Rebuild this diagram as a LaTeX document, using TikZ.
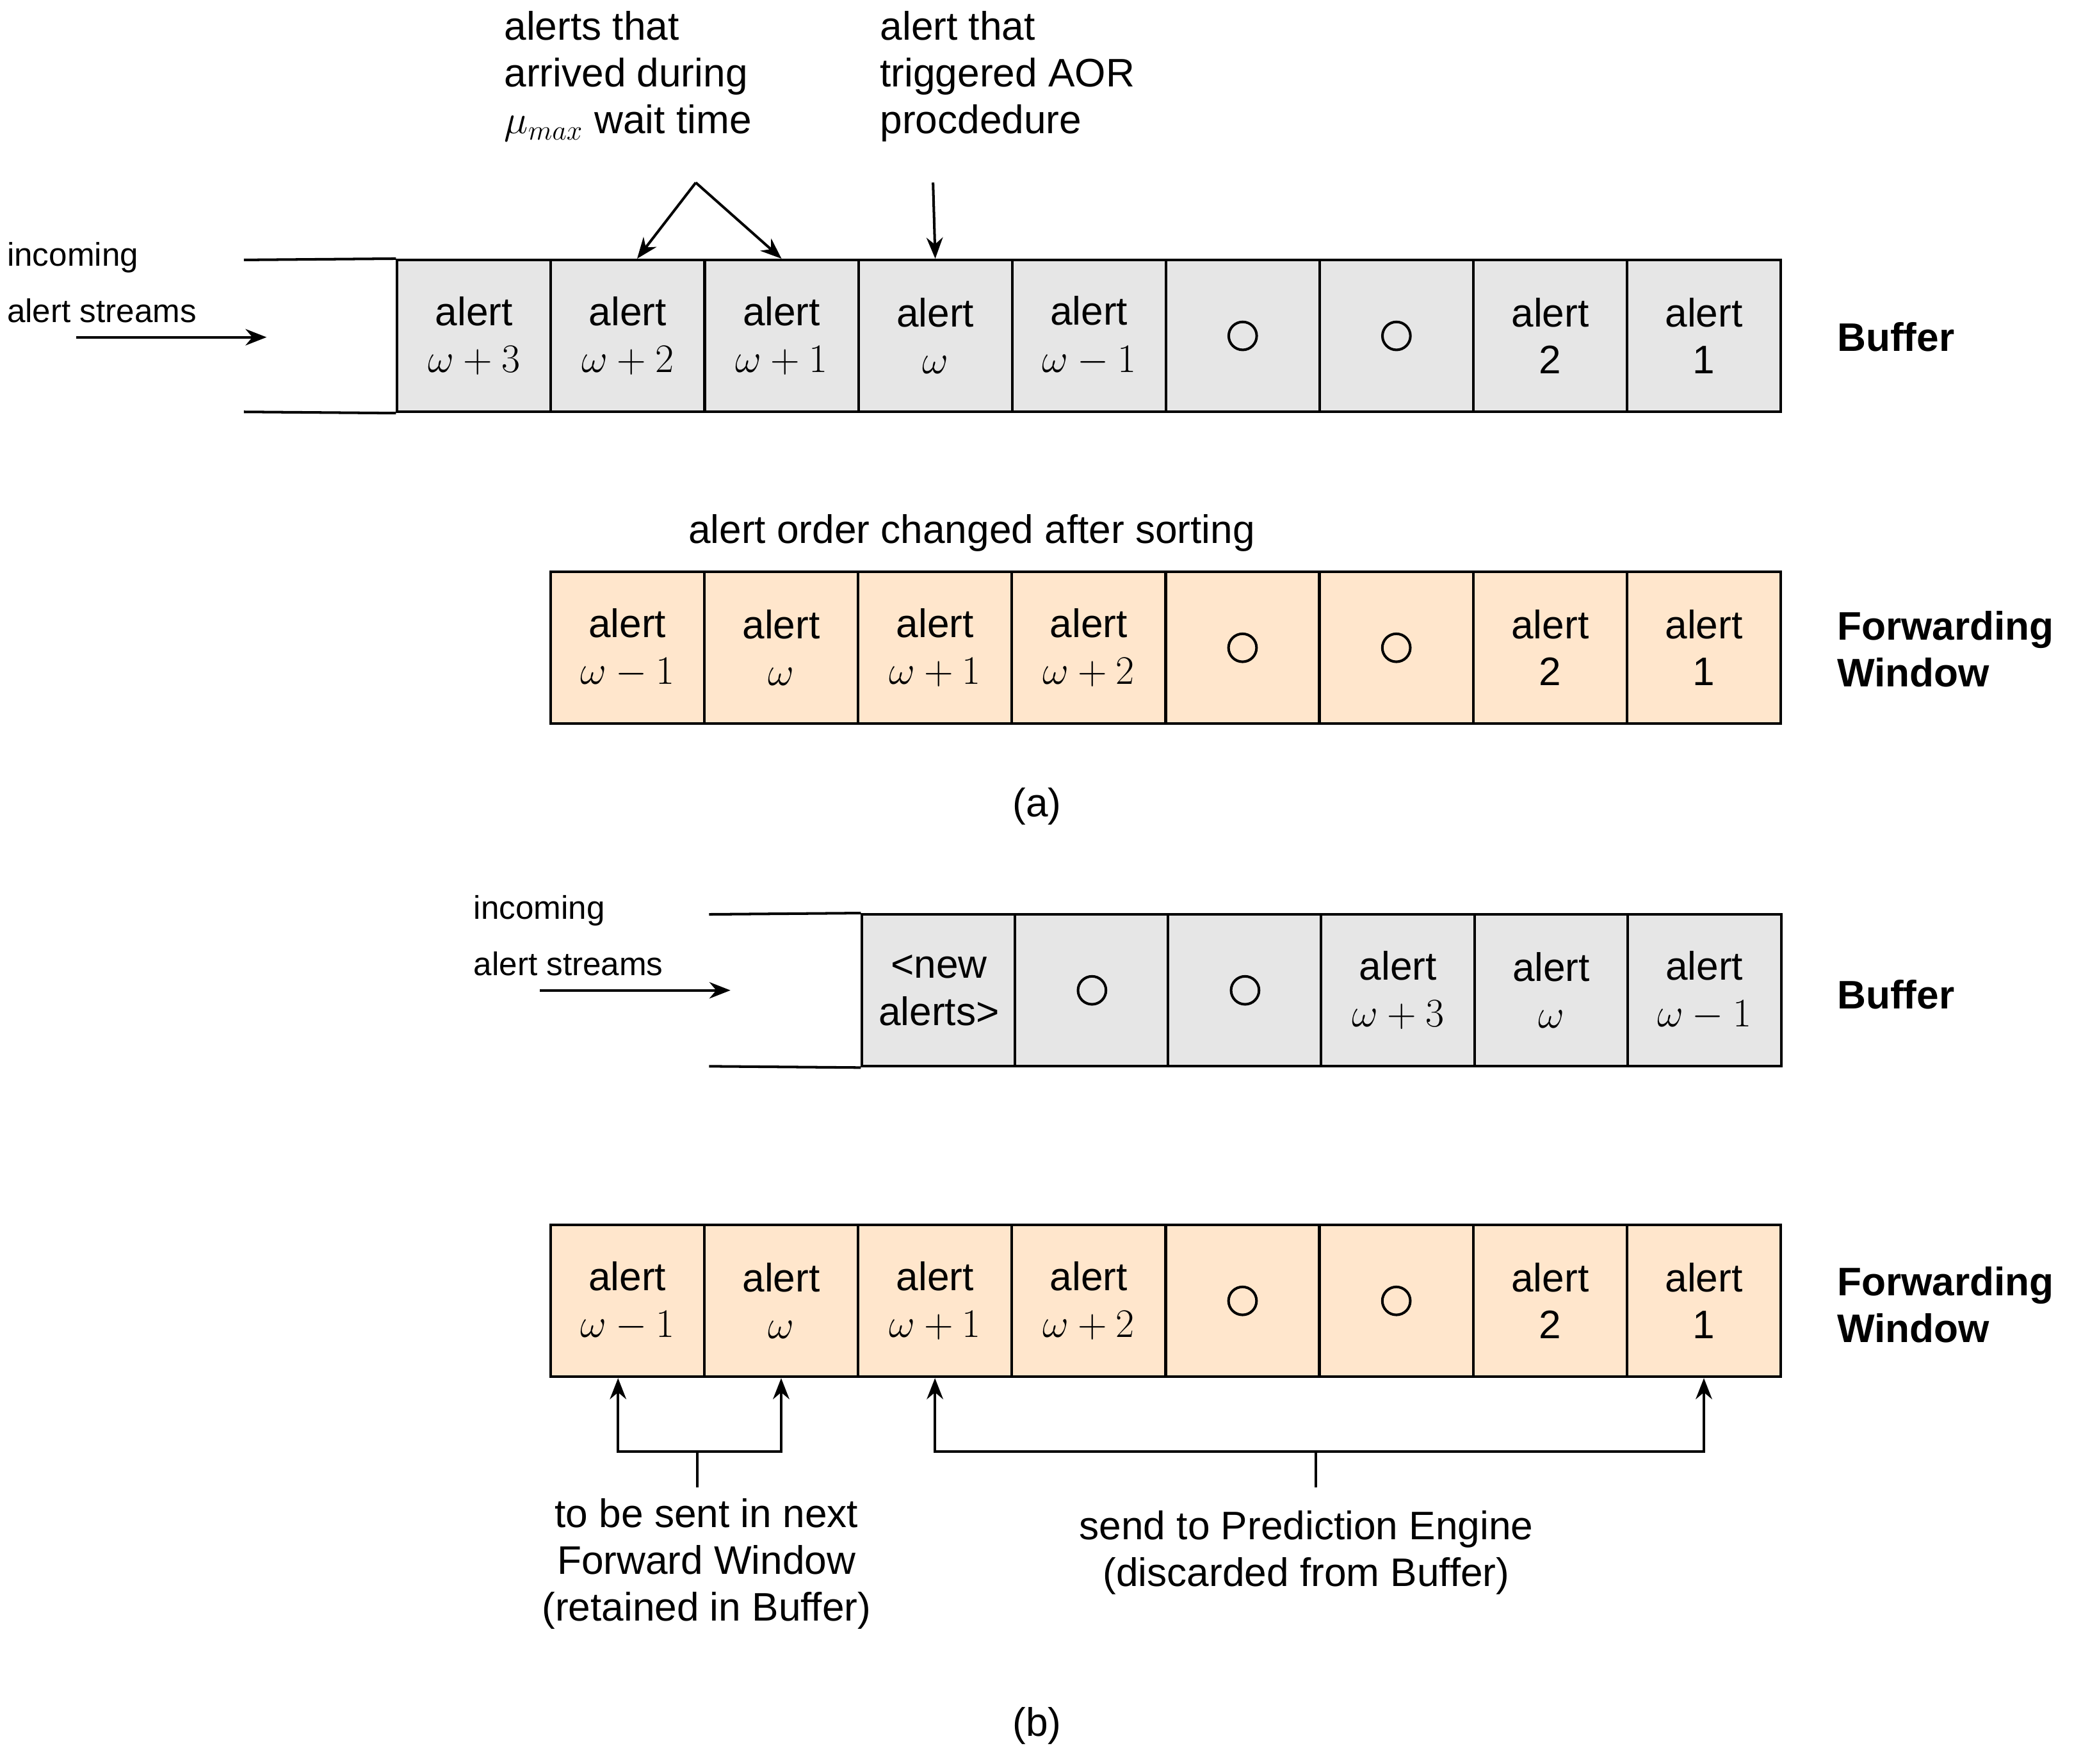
\documentclass[tikz,border=0pt]{standalone}
\usepackage{fontspec}
\setmainfont{Liberation Sans}
\usetikzlibrary{arrows.meta,calc}
\definecolor{gc}{HTML}{E6E6E6}
\definecolor{oc}{HTML}{FFE6CC}
\begin{document}
\begin{tikzpicture}[x=0.02cm,y=-0.02cm,
  lw/.style={line width=1.1pt},
  cell/.style={draw,lw,minimum width=2.306cm,minimum height=2.28cm,inner sep=0pt,align=center,font=\fontsize{17}{20}\selectfont},
  gcell/.style={cell,fill=gc},
  ocell/.style={cell,fill=oc},
  txt/.style={font=\fontsize{17}{20}\selectfont,inner sep=0pt},
  stxt/.style={font=\fontsize{14}{20}\selectfont,inner sep=0pt,anchor=west},
  lbl/.style={font=\bfseries\fontsize{17}{20}\selectfont,inner sep=0pt,anchor=west,align=left},
  arr/.style={lw,-{Stealth[length=9pt,width=7pt]}},
  circ/.style={draw,lw,circle,minimum size=0.42cm,inner sep=0pt}]
\useasboundingbox (0,0) rectangle (1568,1323);
% (a) buffer
\foreach \i/\t in {0/{alert\\$\omega+3$},1/{alert\\$\omega+2$},2/{alert\\$\omega+1$},3/{alert\\$\omega$},4/{alert\\$\omega-1$},5/{},6/{},7/{alert\\2},8/{alert\\1}}
  \node[gcell] (ba\i) at ({298+115.33*(\i+0.5)},252) {\t};
\node[circ] (ca5) at (ba5) {};
\node[circ] (ca6) at (ba6) {};
\coordinate (ta) at (183,195); \coordinate (tb) at (183,309);
\draw[lw] (ta) -- (ba0.north west); \draw[lw] (tb) -- (ba0.south west);
\node[stxt] (ina) at (5,193) {incoming};
\node[stxt] (inb) at (5,233) {alert streams};
\coordinate (ia1) at (57,253); \coordinate (ia2) at (200,253);
\draw[arr] (ia1) -- (ia2);
\node[lbl] (bufa) at (1378,253) {Buffer};
\node[txt,anchor=north west,align=left] (la) at (378,8) {alerts that\\arrived during\\$\mu_{max}$ wait time};
\coordinate (sa) at (522,137);
\draw[arr] (sa) -- ($(ba1.north)+(7,0)$);
\draw[arr] (sa) -- (ba2.north);
\node[txt,anchor=north west,align=left] (lb) at (660,8) {alert that\\triggered AOR\\procdedure};
\coordinate (sb) at (700,137);
\draw[arr] (sb) -- (ba3.north);
% (a) forwarding
\node[txt] (ord) at (729,400) {alert order changed after sorting};
\foreach \i/\t in {0/{alert\\$\omega-1$},1/{alert\\$\omega$},2/{alert\\$\omega+1$},3/{alert\\$\omega+2$},4/{},5/{},6/{alert\\2},7/{alert\\1}}
  \node[ocell] (fa\i) at ({413+115.375*(\i+0.5)},486) {\t};
\node[circ] (cf4) at (fa4) {};
\node[circ] (cf5) at (fa5) {};
\node[lbl] (fwa) at (1378,487) {Forwarding\\Window};
\node[txt] (capa) at (778,605) {(a)};
% (b) buffer
\foreach \i/\t in {0/{<new\\alerts>},1/{},2/{},3/{alert\\$\omega+3$},4/{alert\\$\omega$},5/{alert\\$\omega-1$}}
  \node[gcell] (bb\i) at ({647+114.83*(\i+0.5)},743) {\t};
\node[circ] (cb1) at (bb1) {};
\node[circ] (cb2) at (bb2) {};
\coordinate (tc) at (532,686); \coordinate (td) at (532,800);
\draw[lw] (tc) -- (bb0.north west); \draw[lw] (td) -- (bb0.south west);
\node[stxt] (inc) at (355,683) {incoming};
\node[stxt] (ind) at (355,723) {alert streams};
\coordinate (ib1) at (405,743); \coordinate (ib2) at (548,743);
\draw[arr] (ib1) -- (ib2);
\node[lbl] (bufb) at (1378,746) {Buffer};
% (b) forwarding
\foreach \i/\t in {0/{alert\\$\omega-1$},1/{alert\\$\omega$},2/{alert\\$\omega+1$},3/{alert\\$\omega+2$},4/{},5/{},6/{alert\\2},7/{alert\\1}}
  \node[ocell] (fb\i) at ({413+115.375*(\i+0.5)},976) {\t};
\node[circ] (cg4) at (fb4) {};
\node[circ] (cg5) at (fb5) {};
\node[lbl] (fwb) at (1378,979) {Forwarding\\Window};
% brackets
\coordinate (k1) at (523,1116);
\draw[lw] (k1) -- (523,1089);
\draw[arr] (523,1089) -| ($(fb0.south)+(-7,0)$);
\draw[arr] (523,1089) -| (fb1.south);
\coordinate (k2) at (987,1116);
\draw[lw] (k2) -- (987,1089);
\draw[arr] (987,1089) -| (fb2.south);
\draw[arr] (987,1089) -| (fb7.south);
\node[txt,anchor=north,align=center] (t1) at (530,1124) {to be sent in next\\Forward Window\\(retained in Buffer)};
\node[txt,anchor=north,align=center] (t2) at (980,1133) {send to Prediction Engine\\(discarded from Buffer)};
\node[txt] (capb) at (778,1295) {(b)};
\end{tikzpicture}
\end{document}
